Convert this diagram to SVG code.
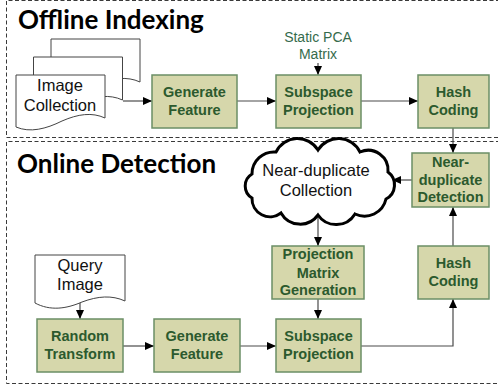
<svg xmlns="http://www.w3.org/2000/svg" width="498" height="389" viewBox="0 0 498 389">
<defs>
<style>
.frame{fill:none;stroke:#3a3a3a;stroke-width:1;stroke-dasharray:4 2.5}
.title{font-family:Lato,"Liberation Sans",sans-serif;font-weight:bold;font-size:26px;fill:#000}
.box{fill:#d6d7ab;stroke:#6b8f66;stroke-width:1.5}
.bt{font-family:"Liberation Sans",Arial,sans-serif;font-weight:bold;font-size:14.5px;fill:#2c5a2e;text-anchor:middle}
.doc{fill:#fff;stroke:#444;stroke-width:1}
.dt{font-family:"Liberation Sans",Arial,sans-serif;font-size:16.5px;fill:#111;text-anchor:middle}
.gt{font-family:"Liberation Sans",Arial,sans-serif;font-size:14px;fill:#356b4c;text-anchor:middle}
.cn{fill:none;stroke:#4a4a4a;stroke-width:1.2;marker-end:url(#ah)}
</style>
<marker id="ah" markerWidth="9" markerHeight="8" refX="9" refY="4" orient="auto" markerUnits="userSpaceOnUse">
<path d="M0,0 L9,4 L0,8 Z" fill="#000"/>
</marker>
<path id="docshape" d="M0,0 H89 V43 C76,37 62,39 46,46 C30,54 14,58 0,52 Z"/>
</defs>
<rect width="498" height="389" fill="#fff"/>

<!-- frames -->
<path class="frame" d="M500,0.5 H6.5 V137.5 H500"/>
<path class="frame" d="M500,141.5 H6.5 V383.5 H497"/>

<text class="title" x="18" y="29">Offline Indexing</text>
<text class="title" x="17" y="173">Online Detection</text>

<!-- connectors -->
<g id="connectors">
<path class="cn" d="M123,101 H152"/>
<path class="cn" d="M237,101 H276"/>
<path class="cn" d="M318,63 V75"/>
<path class="cn" d="M361,101 H418"/>
<path class="cn" d="M453,128 V153"/>
<path class="cn" d="M412,180 H392"/>
<path class="cn" d="M318,216 V246"/>
<path class="cn" d="M318,299 V319"/>
<path class="cn" d="M80,302 V319"/>
<path class="cn" d="M123,346 H154"/>
<path class="cn" d="M240,346 H276"/>
<path class="cn" d="M361,346 H453 V299"/>
<path class="cn" d="M453,246 V207"/>
</g>

<!-- Image Collection -->
<g id="image-collection">
<use href="#docshape" class="doc" x="51" y="39"/>
<use href="#docshape" class="doc" x="33.5" y="57"/>
<use href="#docshape" class="doc" x="16" y="75"/>
<text class="dt" x="60" y="91">Image</text>
<text class="dt" x="60" y="111">Collection</text>
</g>

<g id="generate-feature-1">
<rect class="box" x="152" y="75" width="85" height="53"/>
<text class="bt" x="194.5" y="97">Generate</text>
<text class="bt" x="194.5" y="115">Feature</text>
</g>

<g id="static-pca">
<text class="gt" x="318" y="42">Static PCA</text>
<text class="gt" x="318" y="59">Matrix</text>
</g>

<g id="subspace-projection-1">
<rect class="box" x="276" y="75" width="85" height="53"/>
<text class="bt" x="318.5" y="97">Subspace</text>
<text class="bt" x="318.5" y="115">Projection</text>
</g>

<g id="hash-coding-1">
<rect class="box" x="418" y="75" width="71" height="53"/>
<text class="bt" x="453.5" y="97">Hash</text>
<text class="bt" x="453.5" y="115">Coding</text>
</g>

<g id="near-duplicate-detection">
<rect class="box" x="412" y="153" width="77" height="54"/>
<text class="bt" x="450.5" y="167">Near-</text>
<text class="bt" x="450.5" y="185">duplicate</text>
<text class="bt" x="450.5" y="202">Detection</text>
</g>

<g id="near-duplicate-collection">
<path d="M252,174 A22,22 0 0 1 276,152 A24,24 0 0 1 318,150 A24,24 0 0 1 360,152 A20,20 0 0 1 388,172 A16,16 0 0 1 386,199 A22,22 0 0 1 355,214 A22,22 0 0 1 318,215 A22,22 0 0 1 281,213 A18,18 0 0 1 252,198 A14,14 0 0 1 252,174 Z" fill="#fff" stroke="#000" stroke-width="3"/>
<text class="dt" x="316" y="176">Near-duplicate</text>
<text class="dt" x="316" y="196">Collection</text>
</g>

<g id="projection-matrix-generation">
<rect class="box" x="272" y="246" width="92" height="53"/>
<text class="bt" x="318" y="259">Projection</text>
<text class="bt" x="318" y="278">Matrix</text>
<text class="bt" x="318" y="295">Generation</text>
</g>

<g id="hash-coding-2">
<rect class="box" x="418" y="246" width="71" height="53"/>
<text class="bt" x="453.5" y="268">Hash</text>
<text class="bt" x="453.5" y="286">Coding</text>
</g>

<g id="query-image">
<path class="doc" d="M35,255 H125 V301 C112,295 98,296 82,302 C66,309 50,311 35,303 Z"/>
<text class="dt" x="80" y="271">Query</text>
<text class="dt" x="80" y="290">Image</text>
</g>

<g id="random-transform">
<rect class="box" x="37" y="319" width="86" height="53"/>
<text class="bt" x="80" y="341">Random</text>
<text class="bt" x="80" y="359">Transform</text>
</g>

<g id="generate-feature-2">
<rect class="box" x="154" y="319" width="86" height="53"/>
<text class="bt" x="197" y="341">Generate</text>
<text class="bt" x="197" y="359">Feature</text>
</g>

<g id="subspace-projection-2">
<rect class="box" x="276" y="319" width="85" height="53"/>
<text class="bt" x="318.5" y="341">Subspace</text>
<text class="bt" x="318.5" y="359">Projection</text>
</g>
</svg>
